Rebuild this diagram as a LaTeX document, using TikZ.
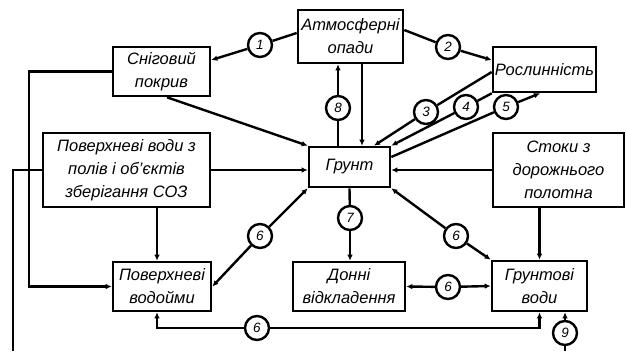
\documentclass[tikz,border=0pt]{standalone}
\usepackage{fontspec}
\setmainfont{Liberation Sans}
\usetikzlibrary{arrows.meta,calc}
\begin{document}
\begin{tikzpicture}[x=1pt,y=-1pt,
  box/.style={draw,line width=2.6pt,inner sep=0pt,align=center,font=\itshape\fontsize{16.5}{23}\selectfont},
  num/.style={draw,circle,line width=2.4pt,minimum size=24pt,inner sep=0pt,font=\itshape\fontsize{13.5}{13.5}\selectfont},
  ln/.style={line width=2.4pt},
  arr/.style={ln,-{Latex[length=6pt,width=5.5pt]}},
  barr/.style={ln,{Latex[length=6pt,width=5.5pt]}-{Latex[length=6pt,width=5.5pt]}}]
\useasboundingbox (0,0) rectangle (626,351);
% boxes
\node[box,minimum width=105pt,minimum height=53pt] (atm) at (350.5,36.5) {Атмосферні\\опади};
\node[box,minimum width=97pt,minimum height=49pt] (sniz) at (161.5,71.5) {Сніговий\\покрив};
\node[box,minimum width=103pt,minimum height=45pt] (rosl) at (544.5,69.5) {Рослинність};
\node[box,minimum width=167pt,minimum height=74pt] (pov) at (126.5,170) {Поверхневі води з\\полів і об'єктів\\зберігання СОЗ};
\node[box,minimum width=81pt,minimum height=40pt] (grunt) at (349.5,167) {Грунт};
\node[box,minimum width=131pt,minimum height=74pt] (stoky) at (558.5,170) {Стоки з\\дорожнього\\полотна};
\node[box,minimum width=98pt,minimum height=49pt] (vodoim) at (162,286.5) {Поверхневі\\водойми};
\node[box,minimum width=112pt,minimum height=49pt] (donni) at (349,286.5) {Донні\\відкладення};
\node[box,minimum width=95pt,minimum height=50pt] (gruntv) at (539.5,286) {Грунтові\\води};
% circles
\node[num] (c1) at (260,45) {1};
\node[num] (c2) at (448,47) {2};
\node[num] (c8) at (338,108) {8};
\node[num] (c3) at (426,112) {3};
\node[num] (c4) at (466,107) {4};
\node[num] (c5) at (506,107) {5};
\node[num] (c6a) at (260,236) {6};
\node[num] (c7) at (350,218) {7};
\node[num] (c6b) at (456,236) {6};
\node[num] (c6c) at (448,287) {6};
\node[num] (c6d) at (257,328) {6};
\node[num] (c9) at (565,333) {9};
% helper coordinates
\coordinate (Lx) at (29,0);
\coordinate (Bl) at (13,351);
\coordinate (Bb) at (0,351);
\coordinate (v1) at ([xshift=-5pt]vodoim.north);
\coordinate (v2) at ([xshift=-5pt]vodoim.south);
\coordinate (a2) at ([xshift=11.5pt]atm.south);
% 1
\draw[ln] ([yshift=3.5pt]atm.west) -- (c1);
\draw[arr] (c1) -- ([yshift=11.5pt]sniz.east);
% 2
\draw[ln] ([yshift=6.5pt]atm.east) -- (c2);
\draw[arr] (c2) -- ([yshift=9.5pt]rosl.west);
% 8
\draw[ln] (c8 |- grunt.north) -- (c8);
\draw[arr] (c8) -- (c8 |- atm.south);
% atm -> grunt
\draw[arr] (a2) -- (a2 |- grunt.north);
% 3
\draw[ln] ([yshift=-2.5pt]rosl.west) -- (c3);
\draw[arr] (c3) -- ([xshift=24.5pt]grunt.north);
% 4
\draw[ln] (rosl.south west) -- (c4);
\draw[arr] (c4) -- (grunt.north east);
% 5
\draw[ln] ([yshift=10pt]grunt.east) -- (c5);
\draw[arr] (c5) -- ([xshift=-4.5pt]rosl.south);
% sniz -> grunt
\draw[arr] ([xshift=5.5pt]sniz.south) -- (grunt.north west);
% sniz -> vodoim
\draw[arr] (sniz.west) -| (Lx |- vodoim.west) -- (vodoim.west);
% pov left line out
\draw[ln] (pov.west) -| (Bl);
% pov -> grunt
\draw[arr] (pov.east) -- (pov.east -| grunt.west);
% stoky -> grunt
\draw[arr] (stoky.west) -- (stoky.west -| grunt.east);
% pov -> vodoim
\draw[arr] (v1 |- pov.south) -- (v1);
% grunt <-> vodoim
\draw[arr] (c6a) -- (grunt.south west);
\draw[arr] (c6a) -- (vodoim.east);
% grunt -> donni
\draw[ln] (grunt.south) -- (c7);
\draw[arr] (c7) -- (c7 |- donni.north);
% grunt <-> gruntv
\draw[arr] (c6b) -- (grunt.south east);
\draw[arr] (c6b) -- (gruntv.north west);
% stoky -> gruntv
\draw[arr] (gruntv.north |- stoky.south) -- (gruntv.north);
% donni <-> gruntv
\draw[arr] (c6c) -- (donni.east);
\draw[arr] (c6c) -- (gruntv.west);
% bottom
\draw[arr] (c6d) -| (v2);
\draw[arr] (c6d) -| (gruntv.south);
% 9
\draw[arr] (c9) -- (c9 |- gruntv.south);
\draw[ln] (c9) -- (c9 |- Bb);
\end{tikzpicture}
\end{document}
